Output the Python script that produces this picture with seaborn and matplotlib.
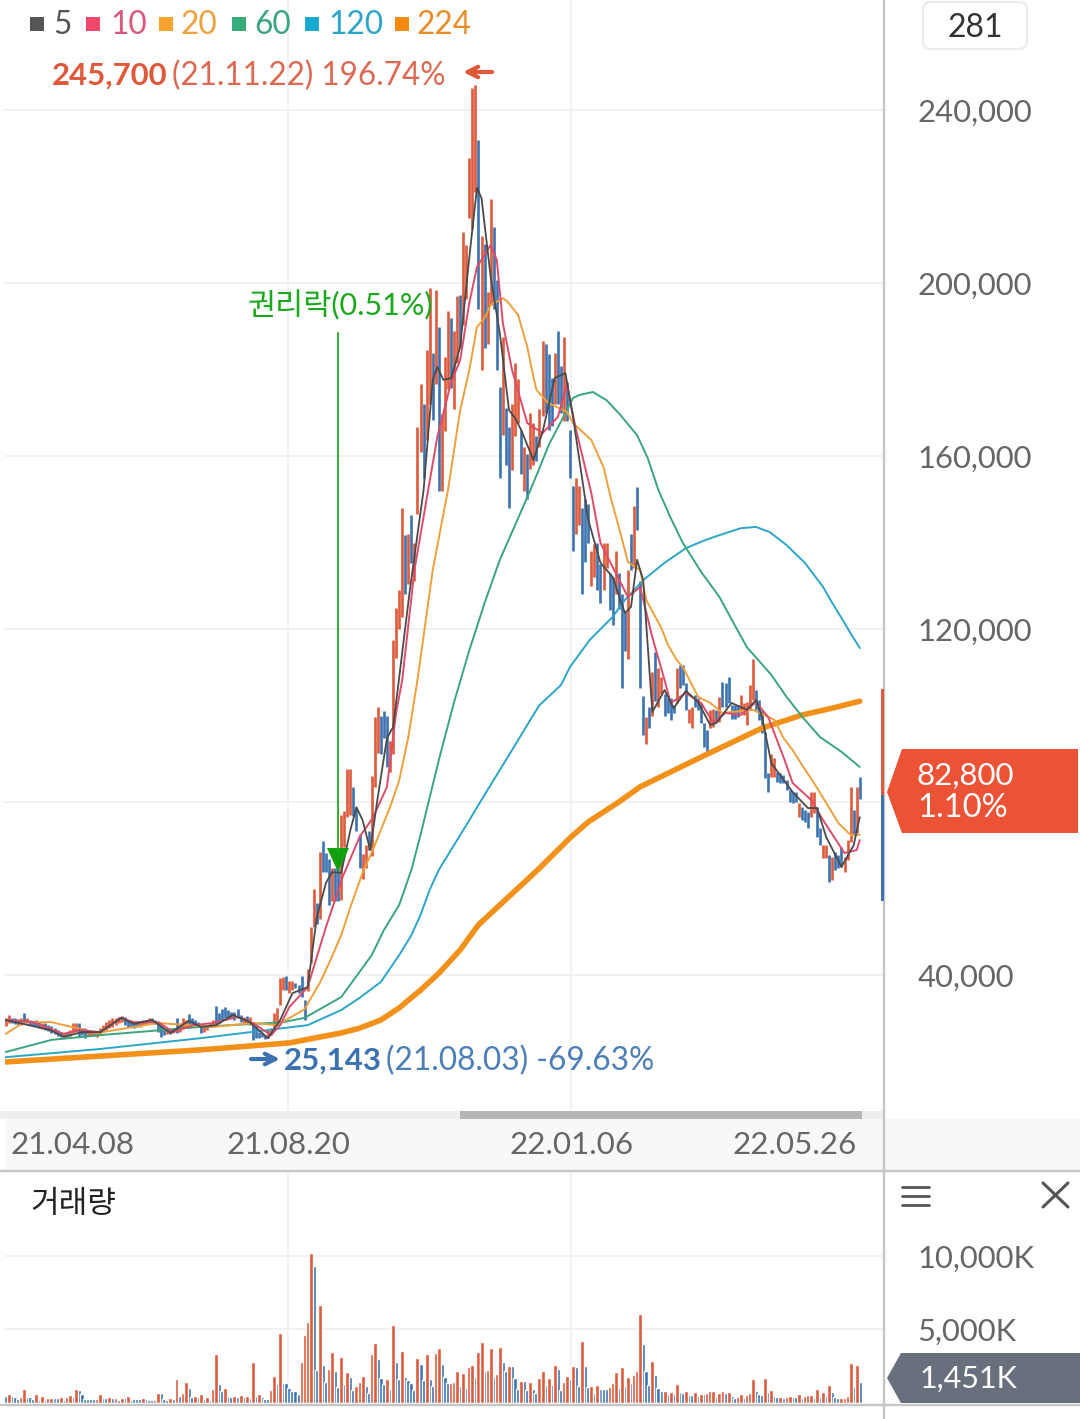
import numpy as np
import pandas as pd
import seaborn as sns
import matplotlib.pyplot as plt
from matplotlib.patches import Polygon, Rectangle, FancyBboxPatch

# daily high / low in thousand won
high_k = [
    30.0,30.8,30.1,30.0,29.8,30.0,31.1,30.0,29.6,29.4,
    29.7,29.2,29.0,28.8,28.4,28.1,27.7,27.3,26.9,26.7,
    26.7,27.3,28.8,29.0,29.0,27.7,27.7,27.3,26.9,26.9,
    26.9,27.7,28.4,29.2,29.6,30.0,30.1,30.4,30.5,30.2,
    29.6,29.2,29.2,29.0,29.2,29.6,29.7,30.0,30.0,29.7,
    29.2,28.1,27.3,27.4,27.3,27.7,30.1,28.8,30.0,29.6,
    30.9,30.0,29.6,29.2,28.1,28.4,28.4,28.8,29.6,32.8,
    31.1,32.1,32.7,31.9,31.5,31.5,32.1,30.8,30.4,30.5,
    30.4,28.8,28.1,26.9,26.7,26.1,27.3,27.7,31.1,32.3,
    39.2,39.6,39.8,38.5,38.5,38.1,37.7,39.8,34.2,41.5,
    51.0,59.8,56.6,68.4,71.0,68.2,66.8,64.8,64.8,64.8,
    76.9,78.0,87.6,87.6,83.4,78.7,72.5,68.0,70.0,73.2,
    85.9,99.7,102.0,100.0,101.0,100.0,94.0,117.4,124.8,129.0,
    147.9,141.7,142.0,146.3,140.0,166.8,176.6,172.0,184.5,198.8,
    183.8,198.3,189.8,169.6,183.0,193.5,192.0,189.0,197.0,197.2,
    211.8,208.7,229.0,245.0,245.7,233.0,210.9,209.0,198.0,219.4,
    213.0,200.8,176.0,187.6,171.0,166.8,172.0,181.6,177.7,165.9,
    162.0,160.5,170.0,167.7,164.6,170.9,186.6,186.0,183.5,178.0,
    183.8,188.9,180.8,187.6,177.0,166.0,153.0,155.0,153.0,148.0,
    150.0,149.0,138.0,139.7,140.0,135.0,140.0,140.0,133.0,132.0,
    138.0,133.0,128.0,124.0,133.7,142.0,148.5,152.8,131.0,104.4,
    99.7,102.0,110.0,114.6,111.0,109.0,105.0,104.0,104.0,102.5,
    110.9,111.7,111.7,107.4,101.6,102.0,104.7,104.0,102.8,98.2,
    96.6,101.3,101.6,101.3,104.3,107.8,107.4,109.0,102.4,102.4,
    102.4,104.7,102.8,103.2,107.1,113.0,105.9,103.6,101.3,96.3,
    86.6,91.2,90.1,87.0,86.6,86.2,85.1,82.8,82.4,82.4,
    79.7,78.9,78.1,77.8,82.4,82.4,78.9,73.9,70.0,70.0,
    67.7,67.3,68.5,67.7,69.7,67.3,71.2,83.5,78.1,83.4,85.7,
]
low_k = [
    28.3,28.8,28.8,28.7,28.4,28.4,28.8,29.0,28.4,28.3,
    28.1,27.8,27.6,27.3,27.1,26.7,26.4,26.0,25.7,25.4,
    25.6,25.9,26.5,26.9,25.7,26.1,25.4,26.1,25.9,25.9,
    25.7,26.4,26.9,27.3,27.7,28.0,28.4,28.8,29.2,28.4,
    28.0,28.0,27.7,27.9,28.0,28.4,28.7,28.8,29.0,28.7,
    26.9,25.7,26.1,26.4,26.3,26.5,26.5,26.9,27.7,28.0,
    28.4,28.4,28.0,28.0,26.7,26.9,27.3,28.0,28.0,28.4,
    28.8,29.6,30.0,30.4,30.0,29.6,30.0,29.2,28.8,28.8,
    28.4,25.0,25.4,25.4,25.6,25.1,25.4,26.1,27.3,28.4,
    33.0,36.5,36.5,35.8,36.5,36.9,35.8,35.0,29.6,36.2,
    42.7,51.0,51.9,53.0,63.9,63.8,56.1,57.0,57.0,57.2,
    57.3,69.7,76.6,77.0,76.7,73.4,64.7,62.2,64.7,69.0,
    67.5,83.5,91.3,91.0,94.7,88.0,87.0,91.0,113.2,120.0,
    122.8,128.2,130.5,135.2,131.0,146.7,161.0,155.0,163.7,172.0,
    168.4,176.7,152.0,152.0,165.8,175.5,175.8,170.9,181.6,185.0,
    190.3,196.4,215.0,212.5,221.0,194.0,180.0,185.0,186.0,195.0,
    194.0,180.0,155.0,164.8,158.0,148.0,156.8,164.6,167.7,155.9,
    152.0,150.0,157.0,158.0,158.8,162.0,169.2,170.0,166.0,167.0,
    172.0,172.0,170.0,168.0,168.0,155.0,138.0,142.0,144.0,128.0,
    135.5,140.0,130.0,132.0,129.0,126.0,129.0,134.0,124.5,121.0,
    128.0,124.7,106.4,115.0,113.0,133.7,134.0,143.0,106.4,95.5,
    93.5,97.0,100.0,103.4,102.0,105.0,100.0,100.5,99.0,100.5,
    102.8,106.3,107.1,101.3,98.2,97.0,102.0,101.3,98.2,92.8,
    90.9,97.0,97.4,98.6,98.6,102.0,102.0,102.8,99.1,99.3,
    99.7,100.5,100.1,97.8,101.6,103.6,101.3,98.9,95.9,85.5,
    82.4,85.8,85.8,84.7,84.3,84.3,82.8,80.1,79.7,80.1,
    76.6,75.8,75.4,73.9,76.6,77.4,72.0,70.0,67.0,67.0,
    61.6,62.0,64.3,64.7,65.0,63.9,66.6,70.8,72.4,72.8,80.8,
]
candle_dir = (
    "rrbbbrbrbb" "bbrbbbbbbr" "brrrbbbrrr" "rrrrrrrrrb" "bbbbrrrrbb"
    "bbbrbrbrrr" "bbbbbrrrrb" "bbbbbbbbrb" "rbbbbbrrrr" "rrbrrbbbbr"
    "rrbrbbbrbb" "rrrrbbbrrb" "rrrbbbrrrr" "rbrbrrrbrr" "brbrrrbrrb"
    "rrrrrbrbrr" "bbbrbbrrrb" "rbrrbrrbbb" "rbbrbbbrrb" "bbrrbbrrbb"
    "rbbbrbrbbb" "rbrbrrbbbb" "rbbbrrbbbb" "brrbrbbbbb" "brrrrrbbbb"
    "brrbbbbbbb" "rbbbrrbbrr" "brbbbrrrbrb"
)

# volume in thousand shares
volume_k = [
    497,633,497,384,294,384,972,429,429,294,
    610,226,497,226,362,362,316,316,429,226,
    429,542,384,927,904,633,294,294,271,271,
    294,633,362,362,429,316,339,180,339,339,
    475,226,271,271,271,362,294,226,180,226,
    678,678,271,226,339,249,1650,497,700,1400,
    1040,384,475,429,633,294,429,226,972,3322,
    1310,836,994,497,429,497,429,542,429,475,
    362,2757,497,588,384,294,294,904,1853,1288,
    4746,1356,1333,1040,814,791,633,2757,4633,5514,
    10215,9311,2215,6667,2576,1446,2305,3480,2192,1085,
    3141,1288,2102,1763,859,1175,1446,1808,1153,678,
    3345,4068,3006,1695,1266,1650,972,5334,2757,1650,
    3571,1763,1537,1333,904,3074,2622,1582,3345,1650,
    1130,3413,3729,2667,1763,1379,1379,1446,2147,1130,
    2034,994,2463,2576,1785,3480,4136,2147,2260,3729,
    1740,1944,3797,2780,2170,2531,2486,1718,972,1492,
    1492,859,1446,927,678,1672,2170,1220,1718,1243,
    2576,2328,881,1424,1853,1650,2531,2463,1153,4226,
    2531,1085,1175,655,1220,972,972,972,1062,1379,
    2102,994,2418,1130,1785,1333,1921,2192,6034,4023,
    2147,1220,2870,1876,1017,814,814,633,723,633,
    1288,768,655,836,565,565,746,452,633,588,
    655,791,814,384,700,814,700,746,475,316,
    384,633,362,565,655,1605,791,588,520,1672,
    746,904,497,429,429,339,384,475,407,384,
    633,339,452,520,542,362,972,429,768,452,
    1243,746,429,316,339,339,497,2735,1107,2576,1451,
]
volume_dir = (
    "brbbbrrbbb" "rbrbrrbbrb" "rrbrbbbbbb" "rrbbrbrbrb" "rbbbbrbbbr"
    "rbbbrbrbrr" "bbrbrbrbrr" "bbrbbrbrbr" "brbrbbbrrb" "rbbbbbbrrr"
    "rbbrbbrrbb" "rbrbbrrrbb" "rrbbbrbrbb" "rbbbbrbbrb" "brrbbbrrrb"
    "rbrrbrrbrr" "brrbbrbbbr" "bbrbbrrbrb" "rbbrrbrbbr" "bbrbrbbbrr"
    "rbrbrbrrrb" "bbrbbbrbrb" "rbbrbbrbrb" "rrrbrrbrbb" "rrbrrrbbbr"
    "brbbrbrrbb" "rbrrrbrbrb" "rbbbrrrrbrb"
)

# moving averages, read as points along each line (candle index, thousand won)
ma224_x = [0,32,64,93,110,116,123,129,136,142,149,155,162,168,175,185,191,201,208,228,248,261,271,280]
ma224_y = [19.9,21.3,22.7,24.3,26.6,27.7,29.6,32.4,36.5,40.4,45.8,51.6,56.2,60.1,64.7,71.7,75.4,80,83.5,90.4,97.1,100.1,101.7,103.3]

ma120_x = [0,31,64,99,110,116,123,129,133,136,139,142,146,152,156,162,166,172,175,182,185,191.5,199,203,209,216,223,229.5,234,241,246,250.5,256,262,268,271,275,277,280]
ma120_y = [21,22.9,25.4,28.4,31.9,34.7,38.4,44.6,49.2,53.9,59.7,64.3,68.9,75.8,80.5,87.4,92,99,102.4,107,111.2,117.5,122.8,126.7,131.3,135.3,138.7,140.6,141.7,143.3,143.6,142.4,139.4,135.3,129.7,126,121.4,119,115.6]

ma60_x = [0,15,31,64,91,98,110,116,120,124,129,133,136,142,147,152,157,162,167,172,175,178,182,186,188,192.5,197,201.5,207,210.5,214,218,222,228,234,239,243,251,256,261.5,267,274,280]
ma60_y = [22.2,25,26.1,28,29.1,30.1,34.9,40.7,44.6,50.4,56.2,64.3,72.4,89.7,103.1,115.1,126,136,144,152.1,157.2,162.5,167.9,173.4,174.1,174.8,172.9,169.5,164.8,159.5,152.1,145.7,139.9,133.2,127.4,120.9,115.8,109.4,104.3,99.4,95,91.6,88.1]

ma20_x = [0,6,15,30,50,68,81,89,98,103,106.5,110,113,117,121,126,129,132,135,137.5,140,142.5,145,149,152,154.5,157,159,163,164.5,168,171,173,174,178,184,186,192,196,198.5,201,204,208,210,215,217,220,222,227,231,235,245,252,255,258,261.5,265,269,273,277,280]
ma20_y = [26.4,29.1,29.1,26.6,28.9,28,28.9,28.4,32.1,38.2,43.5,49.2,55.7,63.6,70,78.8,85,95,108.2,120.9,133.6,142.9,152.1,170.6,179.9,189.8,191.9,194.9,196.5,195.7,192.6,185.2,178.3,175.3,172.2,170.2,167.6,163.7,157.4,150,143.6,135.5,133.6,126.7,120.2,116.5,112.8,111.2,104.3,102.9,100.6,101.3,99,94.8,92,88.1,84.4,79.8,75.1,72.4,72.4]

ma10_x = [0,9,19,24,31,37.5,42,50,55,61.5,68,76,81,87,90,93,99,105,110.5,116,120.5,125,128,130,134,138.5,141.5,146,149,152,154.5,159,161,163,166,171,176,181,184,187,192,195,199,204,208,212,216,218,223,228,232,236,241,246,250,255,258,264,268,275,279,280]
ma10_y = [29.6,29.1,26.4,27.3,26.8,30.1,29.1,29.1,26.8,28.4,28.9,30.3,28.9,26.1,28.4,32.6,37.2,51.1,62.7,71.9,76.5,83.5,100.6,108.2,133.6,152.1,164.4,176.9,182.2,195.4,203.7,208.8,205.3,190.7,179.9,167.6,165.3,169,176.4,166,151.4,139.9,134.3,127.4,129.7,118.1,108.2,102.9,105.2,102.9,98.3,100.6,100.1,103.1,99.6,90.4,84.4,80.5,75.8,68.2,68.9,71.2]

ma5_x = [0,14.5,19,25,31,38,42,48,54,60,64,69,74.5,80,86,90,94,99,102,105,107,110,113,115,117,119.5,122,125,127,128.5,132.5,137,140,141.5,143.5,146,149,152,154.5,156,159,162,165,167,169,173,176,180,183.5,186,191,195,199,203,205,207,209,212,216,219,223,227,231,233,238,243,246,248,251,258,263,266,269,274,278,280]
ma5_y = [29.6,27.3,25.7,26.8,26.8,30.1,28.7,29.6,26.6,29.4,28,28.4,30.8,29.1,25.4,29.6,35.8,37.2,53.4,61.3,63.8,63.6,73.5,78.8,75.8,68.9,81.2,94.8,97.3,105.9,129,152.1,177.6,180.6,177.6,178,185.2,206,222,219.6,201.4,188.4,170.6,168.8,166,159.1,165.5,178,179.2,169,145.2,135.3,132,123.7,125.1,136,131.3,100.8,105.9,101.7,105.7,103.1,97.8,98.3,102.9,101.3,103.6,99.6,89,82.3,78.6,78.6,71.9,65,70,76.5]

price_ticks = [40000, 80000, 120000, 160000, 200000, 240000]
price_labels = ['40,000', '', '120,000', '160,000', '200,000', '240,000']
volume_ticks = [5000, 10000]
volume_labels = ['5,000K', '10,000K']
date_ticks = [21.8, 92.6, 185.4, 258.8]
date_labels = ['21.04.08', '21.08.20', '22.01.06', '22.05.26']
legend_names = ['5', '10', '20', '60', '120', '224']

RED = '#dd5a3c'
BLUE = '#3c72b0'
GRID = '#f1f1f1'
GRAY = '#c6c6c6'
TICK = '#666666'

sns.set_theme(style='white')
plt.rcParams['font.family'] = ['Lato', 'Noto Sans CJK KR', 'DejaVu Sans']

W, H = 1080, 1419
fig = plt.figure(figsize=(W / 100, H / 100), dpi=100, facecolor='white')

def panel(left, top, right, bottom, z):
    a = fig.add_axes([left / W, 1 - bottom / H, (right - left) / W, (bottom - top) / H], zorder=z)
    a.patch.set_alpha(0)
    return a

# background and overlay use picture pixels
bg = panel(0, 0, W, H, 0)
bg.set_xlim(0, W); bg.set_ylim(H, 0); bg.axis('off')
fg = panel(0, 0, W, H, 5)
fg.set_xlim(0, W); fg.set_ylim(H, 0); fg.axis('off')

bg.add_patch(Rectangle((5, 1119), 1075, 51, color='#f8f8f8', lw=0))
bg.add_patch(Rectangle((0, 1111), 884, 8, color='#eeeeee', lw=0))
bg.add_patch(Rectangle((460, 1111), 402, 8, color='#b6b6b6', lw=0))

ax = panel(5, 0, 884, 1110, 2)
vx = panel(5, 1172, 884, 1403, 2)

idx = np.arange(len(high_k))
candles = pd.DataFrame({'i': idx, 'high': np.array(high_k) * 1000, 'low': np.array(low_k) * 1000,
                        'dir': list(candle_dir)})
ax.vlines(candles['i'], candles['low'], candles['high'],
          colors=[RED if d == 'r' else BLUE for d in candles['dir']], linewidth=1.9, zorder=3)

ma_lines = [
    (ma224_x, ma224_y, '#f2901a', 4.0),
    (ma120_x, ma120_y, '#2ba6c8', 1.4),
    (ma60_x, ma60_y, '#3aa57c', 1.4),
    (ma20_x, ma20_y, '#eda03c', 1.4),
    (ma10_x, ma10_y, '#dc4c68', 1.4),
    (ma5_x, ma5_y, '#4a4a4a', 1.3),
]
for n, (xs, ys, col, lw) in enumerate(ma_lines):
    sns.lineplot(x=xs, y=np.array(ys) * 1000, color=col, linewidth=lw, estimator=None, sort=False,
                 legend=False, ax=ax, zorder=4 + n, solid_capstyle='round', solid_joinstyle='round')

ax.set_xlim(-0.23, 287.95)
ax.set_ylim(8786, 265434)
ax.set_xlabel(''); ax.set_ylabel('')
ax.yaxis.tick_right()
ax.set_yticks(price_ticks, price_labels)
ax.set_xticks(date_ticks, date_labels)
ax.tick_params(axis='y', length=0, pad=24, labelsize=22.3, labelcolor=TICK, right=False)
ax.tick_params(axis='x', length=0, pad=15, labelsize=22.6, labelcolor=TICK)
ax.grid(axis='y', color=GRID, lw=1.4, zorder=0)
ax.set_axisbelow(True)
for d in date_ticks[1:3]:
    ax.axvline(d, color=GRID, lw=1.4, zorder=1)

vol = pd.DataFrame({'i': idx, 'volume': volume_k, 'dir': list(volume_dir)})
sns.barplot(data=vol, x='i', y='volume', hue='dir', palette={'r': RED, 'b': BLUE}, native_scale=True,
            dodge=False, width=1.3, saturation=1, errorbar=None, legend=False, ax=vx, zorder=3)
vx.set_xlim(-0.23, 287.95)
vx.set_ylim(0, 15714)
vx.set_xlabel(''); vx.set_ylabel('')
vx.yaxis.tick_right()
vx.set_yticks(volume_ticks, volume_labels)
vx.set_xticks([])
vx.tick_params(axis='y', length=0, pad=24, labelsize=22.2, labelcolor=TICK, right=False)
vx.grid(axis='y', color=GRID, lw=1.4, zorder=0)
vx.set_axisbelow(True)
for d in date_ticks[1:3]:
    vx.axvline(d, color=GRID, lw=1.4, zorder=1)

sns.despine(ax=ax, left=True, bottom=True, right=True, top=True)
sns.despine(ax=vx, left=True, bottom=True, right=True, top=True)

# frame lines
fg.plot([884, 884], [0, H], color=GRAY, lw=1.7, zorder=1)
fg.plot([0, W], [1171, 1171], color=GRAY, lw=1.7, zorder=1)
fg.plot([0, W], [1405, 1405], color=GRAY, lw=1.7, zorder=1)

# legend
legend_cols = ['#555555', '#f0476a', '#f7a32e', '#35ad78', '#17a9d2', '#f78a0c']
legend_text = ['#555555', '#d9587c', '#eda03c', '#3aa57c', '#2ba6c8', '#e98c28']
legend_box = [30, 86, 159, 232, 305, 395]
legend_lab = [53, 110, 181, 254, 328, 417]
for name, c1, c2, bx, lx in zip(legend_names, legend_cols, legend_text, legend_box, legend_lab):
    fg.add_patch(Rectangle((bx, 17), 14, 14, color=c1, lw=0))
    fg.text(lx, 24.5, name, color=c2, fontsize=22.8, va='center', ha='left')

# high and low notes
fg.text(52, 76, '245,700', color='#e0583a', fontsize=22.4, fontweight='bold', va='center')
fg.text(172, 76, '(21.11.22) 196.74%', color='#dc6a52', fontsize=22.7, va='center')
fg.annotate('', xy=(463, 72), xytext=(492, 72),
            arrowprops=dict(arrowstyle='->', color='#e0583a', lw=3, mutation_scale=19, shrinkA=0, shrinkB=0))
fg.annotate('', xy=(280, 1059), xytext=(251, 1059),
            arrowprops=dict(arrowstyle='->', color=BLUE, lw=3, mutation_scale=19, shrinkA=0, shrinkB=0))
fg.text(284, 1061, '25,143', color=BLUE, fontsize=22.5, fontweight='bold', va='center')
fg.text(386, 1061, '(21.08.03) -69.63%', color='#4c7fb8', fontsize=22.8, va='center')

# rights-off marker
fg.text(248, 305.5, '권리락(0.51%)', color='#1aa81c', fontsize=22, va='center')
fg.plot([338, 338], [333, 852], color='#22a822', lw=1.3)
fg.add_patch(Polygon([(327, 848), (349, 848), (338, 872)], color='#0f9f0f', lw=0))

# right side boxes
fg.add_patch(FancyBboxPatch((926, 5), 98, 41, boxstyle='round,pad=3,rounding_size=8',
                            fc='white', ec='#ebebeb', lw=1.5))
fg.text(975, 28, '281', color='#333333', fontsize=23, ha='center', va='center')

fg.add_patch(Rectangle((881, 689), 3, 106, color=RED, lw=0))
fg.add_patch(Rectangle((881, 795), 3, 106, color=BLUE, lw=0))
fg.add_patch(Polygon([(887, 792), (902, 749), (1078, 749), (1078, 833), (902, 833)], color='#ec5235', lw=0))
fg.text(917, 776, '82,800', color='white', fontsize=22.5, va='center')
fg.text(917, 808, '1.10%', color='white', fontsize=23.5, va='center')

fg.add_patch(Polygon([(887, 1378), (901, 1353), (1080, 1353), (1080, 1403), (901, 1403)], color='#67707c', lw=0))
fg.text(920, 1379, '1,451K', color='white', fontsize=22, va='center')

for y in [1187, 1196, 1205]:
    fg.plot([902, 929], [y, y], color='#555555', lw=2)
fg.plot([1043, 1068], [1183, 1207], color='#555555', lw=2.2)
fg.plot([1043, 1068], [1207, 1183], color='#555555', lw=2.2)

fg.text(30, 1204, '거래량', color='#222222', fontsize=22.4, va='center')

fig.savefig('out.png', dpi=100, facecolor='white')
